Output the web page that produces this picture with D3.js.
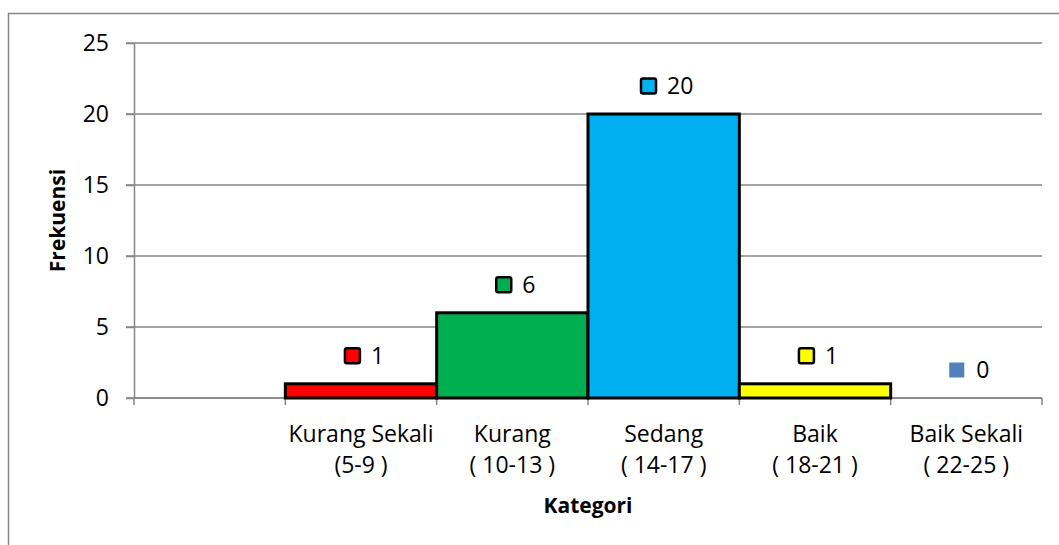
<!DOCTYPE html>
<html>
<head>
<meta charset="utf-8">
<script src="https://cdn.jsdelivr.net/npm/d3@7"></script>
<style>
  body { margin: 0; background: #fff; }
  svg { font-family: "Open Sans", Lato, sans-serif; }
</style>
</head>
<body>
<svg></svg>
<script>
// chart data
var categories = ["", "Kurang Sekali", "Kurang", "Sedang", "Baik", "Baik Sekali"]
var ranges = ["", "(5-9 )", "( 10-13 )", "( 14-17 )", "( 18-21 )", "( 22-25 )"]
var values = [null, 1, 6, 20, 1, 0]
var yTicks = [0, 5, 10, 15, 20, 25]

var colors = ["none", "#FF0000", "#00B050", "#00B0F0", "#FFFF00", "#4F81BD"]

var screen = {width: 1059, height: 545}
var margins = {top: 43, left: 134, right: 17, bottom: 147}
var width = screen.width - margins.left - margins.right
var height = screen.height - margins.top - margins.bottom
var fontSize = 23
var titleSize = 21

var svg = d3.select("svg")
    .attr("width", screen.width)
    .attr("height", screen.height)

// outer chart frame
svg.append("rect")
    .attr("x", 8.5).attr("y", 13.5)
    .attr("width", 1100).attr("height", 600)
    .attr("fill", "none")
    .attr("stroke", "#868686")
    .attr("stroke-width", 1.5)

var g = svg.append("g")
    .attr("transform", "translate(" + margins.left + "," + margins.top + ")")

var xScale = d3.scaleBand()
    .domain(categories.map(function(d, i){ return i }))
    .range([0, width])
    .padding(0)

var yScale = d3.scaleLinear()
    .domain([0, 25])
    .range([height, 0])

// gridlines
g.append("g").attr("class", "grid")
    .selectAll("line")
    .data(yTicks)
    .enter()
    .append("line")
    .attr("x1", -8)
    .attr("x2", width)
    .attr("y1", function(d){ return yScale(d) })
    .attr("y2", function(d){ return yScale(d) })
    .attr("stroke", "#868686")
    .attr("stroke-width", 1.5)

// y axis
var yAxis = d3.axisLeft(yScale)
    .tickValues(yTicks)
    .tickSize(8)
    .tickPadding(17)
    .tickSizeOuter(0)
var ya = g.append("g").call(yAxis)
ya.select(".domain").attr("stroke", "#868686").attr("stroke-width", 1.5)
ya.selectAll(".tick line").attr("stroke", "#868686").attr("stroke-width", 1.5)
ya.selectAll("text")
    .attr("font-family", "'Open Sans', Lato, sans-serif")
    .attr("font-size", fontSize)
    .attr("fill", "#000")

// x axis line and ticks at band edges
var edges = categories.map(function(d, i){ return xScale(i) }).concat([width])
g.append("line")
    .attr("x1", 0).attr("x2", width)
    .attr("y1", height).attr("y2", height)
    .attr("stroke", "#868686").attr("stroke-width", 1.5)
g.selectAll(".xtick")
    .data(edges)
    .enter()
    .append("line")
    .attr("class", "xtick")
    .attr("x1", function(d){ return d })
    .attr("x2", function(d){ return d })
    .attr("y1", height)
    .attr("y2", height + 7)
    .attr("stroke", "#868686").attr("stroke-width", 1.5)

// bars
var barData = values.map(function(v, i){ return {v: v, i: i} })
    .filter(function(d){ return d.v > 0 })

g.selectAll(".bar")
    .data(barData)
    .enter()
    .append("rect")
    .attr("class", "bar")
    .attr("x", function(d){ return xScale(d.i) })
    .attr("y", function(d){ return yScale(d.v) })
    .attr("width", xScale.bandwidth())
    .attr("height", function(d){ return height - yScale(d.v) })
    .attr("fill", function(d){ return colors[d.i] })
    .attr("stroke", "#000")
    .attr("stroke-width", 3)

// data labels with legend keys
var labelData = values.map(function(v, i){ return {v: v, i: i} })
    .filter(function(d){ return d.v !== null })

var labels = g.selectAll(".dlabel")
    .data(labelData)
    .enter()
    .append("g")
    .attr("class", "dlabel")

labels.append("text")
    .text(function(d){ return d.v })
    .attr("font-size", fontSize)
    .attr("fill", "#000")
    .attr("dy", "0.35em")

labels.each(function(d){
    var grp = d3.select(this)
    var t = grp.select("text")
    var tw = t.node().getComputedTextLength()
    var key = 17
    var gap = 10
    var total = key + gap + tw
    var cx = xScale(d.i) + xScale.bandwidth() / 2 + 3
    var cy = yScale(d.v) - 28
    var left = cx - total / 2
    if (d.v > 0) {
        grp.append("rect")
            .attr("x", left + 1).attr("y", cy - 7.5)
            .attr("width", key - 2).attr("height", key - 2)
            .attr("rx", 2)
            .attr("fill", colors[d.i])
            .attr("stroke", "#000")
            .attr("stroke-width", 2.5)
    } else {
        grp.append("rect")
            .attr("x", left).attr("y", cy - 7.5)
            .attr("width", key - 2).attr("height", key - 2)
            .attr("fill", colors[d.i])
    }
    t.attr("x", left + key + gap).attr("y", cy)
})

// category labels
var xl = g.selectAll(".xlabel")
    .data(categories)
    .enter()
    .append("text")
    .attr("class", "xlabel")
    .attr("text-anchor", "middle")
    .attr("font-size", fontSize)
    .attr("fill", "#000")
    .attr("x", function(d, i){ return xScale(i) + xScale.bandwidth() / 2 })
    .attr("y", height + 44)
xl.append("tspan")
    .text(function(d){ return d })
xl.append("tspan")
    .attr("x", function(d, i){ return xScale(i) + xScale.bandwidth() / 2 })
    .attr("dy", 31)
    .text(function(d, i){ return ranges[i] })

// axis titles
g.append("text")
    .attr("text-anchor", "middle")
    .attr("font-size", titleSize)
    .attr("font-weight", "bold")
    .attr("x", width / 2)
    .attr("y", height + 115)
    .text("Kategori")

svg.append("text")
    .attr("text-anchor", "middle")
    .attr("font-size", titleSize)
    .attr("font-weight", "bold")
    .attr("transform", "translate(65," + (margins.top + height / 2) + ") rotate(-90)")
    .text("Frekuensi")
</script>
</body>
</html>
